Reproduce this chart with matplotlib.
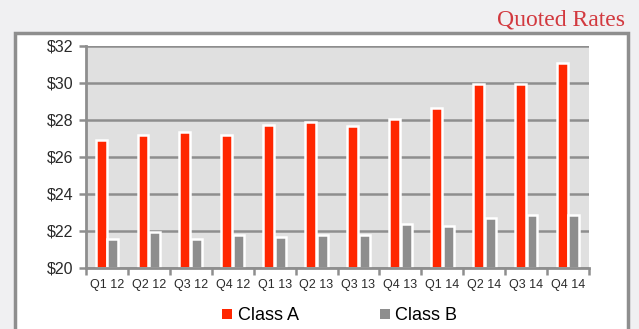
import matplotlib.pyplot as plt
import numpy as np
from matplotlib.patches import Rectangle

quarters = ["Q1 12", "Q2 12", "Q3 12", "Q4 12", "Q1 13", "Q2 13",
            "Q3 13", "Q4 13", "Q1 14", "Q2 14", "Q3 14", "Q4 14"]
class_a = [26.9, 27.2, 27.35, 27.2, 27.75, 27.9, 27.65, 28.05, 28.65, 29.95, 29.95, 31.1]
class_b = [21.55, 21.95, 21.55, 21.8, 21.65, 21.8, 21.8, 22.4, 22.25, 22.7, 22.85, 22.85]

plt.rcParams["font.family"] = ["Liberation Sans", "DejaVu Sans"]

fig = plt.figure(figsize=(6.39, 3.29), dpi=100)
fig.patch.set_facecolor("#f0f0f2")

# white panel with grey border
panel = Rectangle((15 / 639, -0.05), 613 / 639, 1 - 33 / 329 + 0.05,
                  transform=fig.transFigure, facecolor="white",
                  edgecolor="#8e8e8e", linewidth=2.5, zorder=-5)
fig.patches.append(panel)

fig.text(0.978, 0.938, "Quoted Rates", ha="right", va="center",
         family=["Liberation Serif", "DejaVu Serif"], fontsize=17, color="#d2393f")

ax = fig.add_axes([86 / 639, 1 - 268 / 329, 503 / 639, 222 / 329])
ax.set_zorder(2)
ax.set_facecolor("#e0e0e0")

x = np.arange(len(quarters))
w = 0.26
ax.bar(x - 0.14, np.array(class_a) - 20, w, bottom=20, color="#ff2600",
       edgecolor="white", linewidth=1.8, zorder=3, label="Class A")
ax.bar(x + 0.14, np.array(class_b) - 20, w, bottom=20, color="#8e8e8e",
       edgecolor="white", linewidth=1.8, zorder=3, label="Class B")

ax.set_ylim(20, 32)
ax.set_xlim(-0.5, len(quarters) - 0.5)
ax.set_yticks(range(20, 33, 2))
ax.set_yticklabels(["$%d" % v for v in range(20, 33, 2)], fontsize=11.5, color="#2a2a2a")
ax.yaxis.grid(True, color="#8e8e8e", linewidth=1.8, zorder=1)
ax.set_axisbelow(True)

ax.set_xticks(x)
ax.set_xticklabels(quarters, fontsize=9, color="#2a2a2a")
ax.set_xticks(np.arange(-0.5, len(quarters)), minor=True)
ax.tick_params(axis="x", which="major", length=0, pad=8)
ax.tick_params(axis="x", which="minor", length=5, width=1.8, color="#8e8e8e")
ax.tick_params(axis="y", length=5, width=1.8, color="#8e8e8e", pad=4)

for side in ["top", "right"]:
    ax.spines[side].set_visible(False)
for side in ["left", "bottom"]:
    ax.spines[side].set_color("#8e8e8e")
    ax.spines[side].set_linewidth(2)
    ax.spines[side].set_zorder(5)

leg = fig.legend(loc="center", bbox_to_anchor=(0.532, 0.04), ncol=2, frameon=False,
                 fontsize=13, handlelength=0.55, handleheight=0.55, handletextpad=0.3,
                 columnspacing=4.5)
for h in leg.legend_handles:
    h.set_edgecolor("none")

fig.savefig("out.png", dpi=100, facecolor=fig.get_facecolor())
